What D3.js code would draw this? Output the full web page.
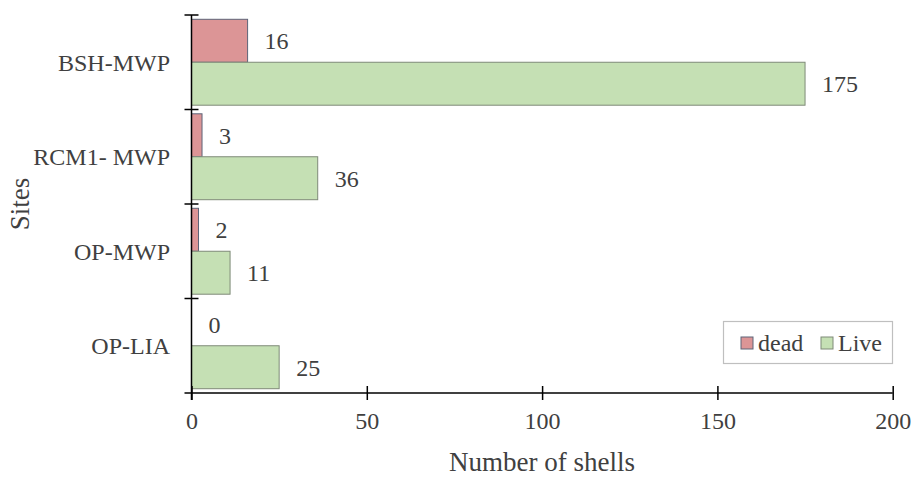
<!DOCTYPE html>
<html><head><meta charset="utf-8">
<script src="https://cdn.jsdelivr.net/npm/d3@7"></script>
<style>body{margin:0;background:#fff}svg{display:block}</style>
</head><body>
<svg id="c" width="917" height="477"></svg>
<script>
const categories = ["BSH-MWP", "RCM1- MWP", "OP-MWP", "OP-LIA"];
const seriesNames = ["dead", "Live"];
const deadValues = [16, 3, 2, 0];
const liveValues = [175, 36, 11, 25];
const xTicks = [0, 50, 100, 150, 200];
const colors = {dead: "#dc9596", Live: "#c5e0b4"};
const strokes = {dead: "#5d6478", Live: "#7f8a78"};

(function () {
const svg = d3.select("#c");
const font = "'Liberation Serif', 'Times New Roman', serif";
const textColor = "#404040";
const pLeft = 191.5, pRight = 892.7, pTop = 15, pBottom = 393;

const x = d3.scaleLinear().domain([0, 200]).range([pLeft, pRight]);
const y = d3.scaleBand().domain(categories).range([pTop, pBottom]).padding(0);
const yi = d3.scaleBand().domain(seriesNames).range([0, y.bandwidth()]).paddingInner(0).paddingOuter(0.1);

const data = categories.map((c, i) => ({cat: c, values: [
  {key: "dead", value: deadValues[i]}, {key: "Live", value: liveValues[i]}]}));

const g = svg.append("g");
const groups = g.selectAll("g.cat").data(data).join("g")
  .attr("transform", d => `translate(0,${y(d.cat)})`);

groups.selectAll("rect").data(d => d.values).join("rect")
  .attr("x", x(0))
  .attr("y", d => yi(d.key))
  .attr("width", d => x(d.value) - x(0))
  .attr("height", yi.bandwidth())
  .attr("fill", d => colors[d.key])
  .attr("stroke", d => strokes[d.key])
  .attr("stroke-width", 1);

groups.selectAll("text.val").data(d => d.values).join("text")
  .attr("class", "val")
  .attr("x", d => x(d.value) + 17)
  .attr("y", d => yi(d.key) + yi.bandwidth() / 2)
  .attr("dy", "0.35em")
  .attr("font-family", font).attr("font-size", 24).attr("fill", textColor)
  .text(d => d.value);

// X axis
const xAxis = d3.axisBottom(x).tickValues(xTicks).tickSizeInner(7).tickSizeOuter(0).tickPadding(12);
const xg = svg.append("g").attr("transform", `translate(0,${pBottom})`).call(xAxis);
xg.select(".domain").remove();
xg.append("line").attr("x1", pLeft - 7).attr("x2", pRight).attr("y1", 0).attr("y2", 0)
  .attr("stroke", "#000").attr("stroke-width", 1.5);
xg.selectAll(".tick line").attr("y1", -7).attr("stroke", "#000").attr("stroke-width", 1.5);
xg.selectAll(".tick text").attr("font-family", font).attr("font-size", 24).attr("fill", textColor);

// Y axis
const yg = svg.append("g");
yg.append("line").attr("x1", pLeft).attr("x2", pLeft).attr("y1", pTop).attr("y2", pBottom + 7)
  .attr("stroke", "#000").attr("stroke-width", 1.5);
const bounds = categories.map(c => y(c));
yg.selectAll("line.tk").data(bounds).join("line").attr("class", "tk")
  .attr("x1", pLeft - 7).attr("x2", pLeft + 7).attr("y1", d => d).attr("y2", d => d)
  .attr("stroke", "#000").attr("stroke-width", 1.5);
yg.selectAll("text.cat").data(categories).join("text").attr("class", "cat")
  .attr("x", 170).attr("y", d => y(d) + y.bandwidth() / 2).attr("dy", "0.35em")
  .attr("text-anchor", "end")
  .attr("font-family", font).attr("font-size", 24).attr("fill", textColor)
  .text(d => d);

// Axis titles
svg.append("text").attr("x", (pLeft + pRight) / 2).attr("y", 471)
  .attr("text-anchor", "middle").attr("font-family", font).attr("font-size", 27)
  .attr("fill", textColor).text("Number of shells");
svg.append("text").attr("transform", `translate(29,${(pTop + pBottom) / 2}) rotate(-90)`)
  .attr("text-anchor", "middle").attr("font-family", font).attr("font-size", 27)
  .attr("fill", textColor).text("Sites");

// Legend
const lg = svg.append("g");
lg.append("rect").attr("x", 723.5).attr("y", 321.5).attr("width", 169).attr("height", 42)
  .attr("fill", "#fff").attr("stroke", "#bfbfbf").attr("stroke-width", 1.2);
const legendX = [741, 821];
seriesNames.forEach((s, i) => {
  lg.append("rect").attr("x", legendX[i]).attr("y", 337).attr("width", 12).attr("height", 12)
    .attr("fill", colors[s]).attr("stroke", strokes[s]).attr("stroke-width", 1);
  lg.append("text").attr("x", legendX[i] + 17).attr("y", 343).attr("dy", "0.35em")
    .attr("font-family", font).attr("font-size", 24).attr("fill", textColor).text(s);
});
})();
</script>
</body></html>
